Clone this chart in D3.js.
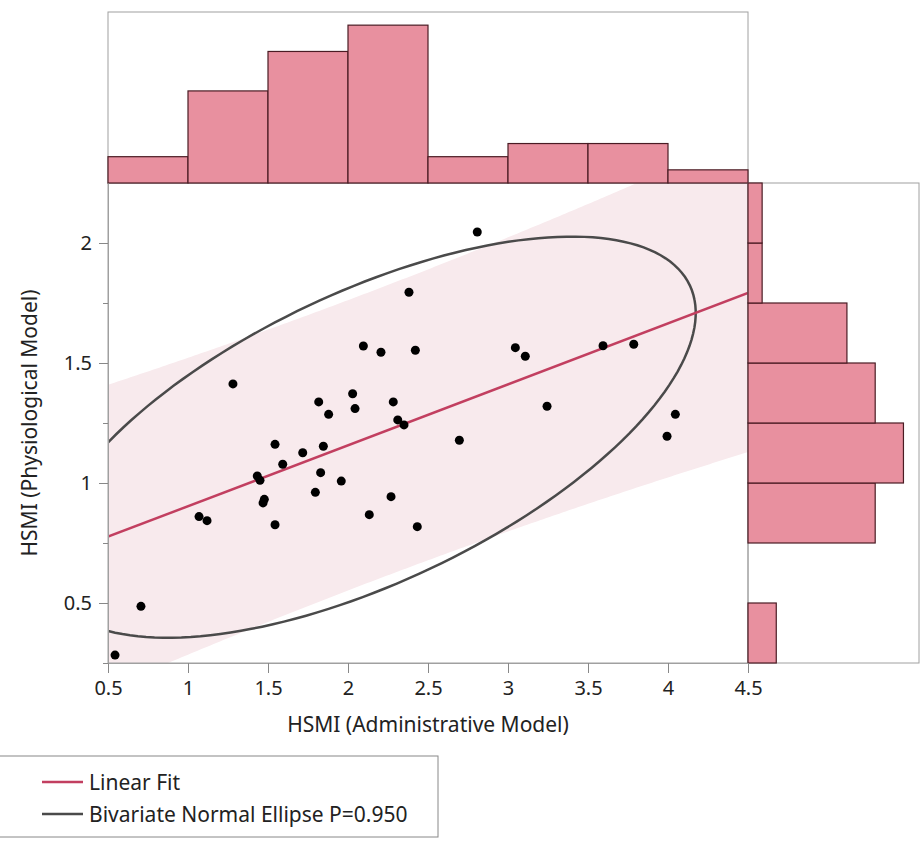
<!DOCTYPE html>
<html>
<head>
<meta charset="utf-8">
<script src="https://cdn.jsdelivr.net/npm/d3@7"></script>
<style>
  body { margin: 0; background: #fff; }
  svg { display: block; font-family: "Noto Sans", "Open Sans", sans-serif; }
</style>
</head>
<body>
<svg id="chart" width="922" height="842"></svg>
<script>
// HSMI values (one entry per hospital)
const hsmiAdmin = [1.544, 1.717, 1.846, 1.592, 1.433, 1.45, 1.829, 1.958, 1.796, 1.477,
  1.469, 2.269, 1.069, 1.119, 2.133, 1.544, 2.433, 0.706, 0.544, 2.381,
  2.096, 2.206, 2.421, 1.281, 2.029, 1.817, 2.044, 2.283, 1.879, 2.311,
  2.35, 2.808, 3.046, 3.108, 3.594, 3.786, 3.244, 4.046, 2.696, 3.994];
const hsmiPhysio = [1.161, 1.126, 1.153, 1.078, 1.029, 1.011, 1.043, 1.008, 0.961, 0.932,
  0.917, 0.943, 0.860, 0.843, 0.868, 0.826, 0.818, 0.486, 0.283, 1.795,
  1.571, 1.545, 1.553, 1.413, 1.372, 1.338, 1.310, 1.338, 1.286, 1.263,
  1.242, 2.046, 1.564, 1.528, 1.572, 1.578, 1.320, 1.286, 1.178, 1.195];

const xTicks = [0.5, 1, 1.5, 2, 2.5, 3, 3.5, 4, 4.5];
const yTicks = [0.5, 1, 1.5, 2];
const yMinor = [0.25, 0.75, 1.25, 1.75];
const legendItems = ["Linear Fit", "Bivariate Normal Ellipse P=0.950"];

const svg = d3.select("#chart");

// zonas do gráfico
const L = 108, R = 748, T = 183, B = 663;
const histTop = 12, histRight = 919;

const x = d3.scaleLinear().domain([0.5, 4.5]).range([L, R]);
const y = d3.scaleLinear().domain([0.25, 2.25]).range([B, T]);

const pink = "#e8909f", barStroke = "#4a1c24", frameCol = "#a0a0a0";

const n = hsmiAdmin.length;
const pts = hsmiAdmin.map((v, i) => [v, hsmiPhysio[i]]);

// --- estatísticas: regressão e elipse ---
const mx = d3.mean(hsmiAdmin), my = d3.mean(hsmiPhysio);
let sxx = 0, syy = 0, sxy = 0;
pts.forEach(([a, b]) => { sxx += (a - mx) ** 2; syy += (b - my) ** 2; sxy += (a - mx) * (b - my); });
const slope = sxy / sxx, icpt = my - slope * mx;
const sse = d3.sum(pts, ([a, b]) => (b - (icpt + slope * a)) ** 2);
const s = Math.sqrt(sse / (n - 2));
const tCrit = 2.2; // largura da faixa sombreada, acertada pela figura

// faixa de predição individual
const bandX = d3.range(0.3, 4.71, 0.02);
const band = bandX.map(v => {
  const h = tCrit * s * Math.sqrt(1 + 1 / n + (v - mx) ** 2 / sxx);
  const m = icpt + slope * v;
  return { v, lo: m - h, hi: m + h };
});

// elipse normal bivariada (P = 0.95, qui-quadrado 2 g.l.)
const cxx = sxx / (n - 1), cyy = syy / (n - 1), cxy = sxy / (n - 1);
const c2 = -2 * Math.log(1 - 0.95);
const tr = cxx + cyy, det = cxx * cyy - cxy * cxy;
const l1 = tr / 2 + Math.sqrt(tr * tr / 4 - det), l2 = tr / 2 - Math.sqrt(tr * tr / 4 - det);
const ang = Math.atan2(l1 - cxx, cxy);
const ell = d3.range(0, 2 * Math.PI + 0.01, Math.PI / 90).map(t => {
  const u = Math.sqrt(c2 * l1) * Math.cos(t), w = Math.sqrt(c2 * l2) * Math.sin(t);
  return [mx + u * Math.cos(ang) - w * Math.sin(ang), my + u * Math.sin(ang) + w * Math.cos(ang)];
});

svg.append("clipPath").attr("id", "clip")
  .append("rect").attr("x", L).attr("y", T).attr("width", R - L).attr("height", B - T);

const plot = svg.append("g").attr("clip-path", "url(#clip)");

plot.append("path")
  .datum(band)
  .attr("fill", "#f8eaed")
  .attr("d", d3.area().x(d => x(d.v)).y0(d => y(d.lo)).y1(d => y(d.hi)));

plot.append("path")
  .datum(ell)
  .attr("fill", "none")
  .attr("stroke", "#4a4a4a")
  .attr("stroke-width", 2.5)
  .attr("d", d3.line().x(d => x(d[0])).y(d => y(d[1])));

plot.append("line")
  .attr("x1", x(0.5)).attr("y1", y(icpt + slope * 0.5))
  .attr("x2", x(4.5)).attr("y2", y(icpt + slope * 4.5))
  .attr("stroke", "#c23f60").attr("stroke-width", 2.5);

plot.selectAll("circle")
  .data(pts)
  .enter().append("circle")
  .attr("cx", d => x(d[0])).attr("cy", d => y(d[1]))
  .attr("r", 4.5).attr("fill", "#000");

// moldura do gráfico principal
svg.append("rect").attr("x", L).attr("y", T).attr("width", R - L).attr("height", B - T)
  .attr("fill", "none").attr("stroke", frameCol);

// --- histograma superior ---
const binsX = d3.bin().domain([0.5, 4.5]).thresholds(d3.range(1, 4.5, 0.5))(hsmiAdmin);
const hy = d3.scaleLinear().domain([0, 13]).range([T, histTop]);
svg.append("rect").attr("x", L).attr("y", histTop).attr("width", R - L).attr("height", T - histTop)
  .attr("fill", "none").attr("stroke", frameCol);
svg.append("g").selectAll("rect")
  .data(binsX)
  .enter().append("rect")
  .attr("x", d => x(d.x0)).attr("width", d => x(d.x1) - x(d.x0))
  .attr("y", d => hy(d.length)).attr("height", d => T - hy(d.length))
  .attr("fill", pink).attr("stroke", barStroke).attr("stroke-width", 1.2);

// --- histograma lateral ---
const binsY = d3.bin().domain([0.25, 2.25]).thresholds(d3.range(0.5, 2.25, 0.25))(hsmiPhysio);
const hx = d3.scaleLinear().domain([0, 12.1]).range([R, histRight]);
svg.append("rect").attr("x", R).attr("y", T).attr("width", histRight - R).attr("height", B - T)
  .attr("fill", "none").attr("stroke", frameCol);
svg.append("g").selectAll("rect")
  .data(binsY.filter(d => d.length > 0))
  .enter().append("rect")
  .attr("x", R).attr("width", d => hx(d.length) - R)
  .attr("y", d => y(d.x1)).attr("height", d => y(d.x0) - y(d.x1))
  .attr("fill", pink).attr("stroke", barStroke).attr("stroke-width", 1.2);

// --- eixos ---
const xAxis = svg.append("g").attr("transform", `translate(0,${B})`)
  .call(d3.axisBottom(x).tickValues(xTicks).tickFormat(d3.format("~g")).tickSize(10).tickSizeOuter(0));
const yAxis = svg.append("g").attr("transform", `translate(${L},0)`)
  .call(d3.axisLeft(y).tickValues(yTicks).tickFormat(d3.format("~g")).tickSize(9).tickSizeOuter(0));
svg.append("g").attr("transform", `translate(${L},0)`)
  .call(d3.axisLeft(y).tickValues(yMinor).tickFormat("").tickSize(5).tickSizeOuter(0))
  .call(g => g.select(".domain").remove());

svg.selectAll(".tick line").attr("stroke", "#888");
svg.selectAll(".domain").attr("stroke", frameCol);
[xAxis, yAxis].forEach(g => g.selectAll("text")
  .attr("font-size", 20).attr("font-family", "Noto Sans").attr("fill", "#222"));
xAxis.selectAll("text").attr("dy", "0.95em");
yAxis.selectAll("text").attr("x", -16);

svg.append("text")
  .attr("x", (L + R) / 2).attr("y", 732)
  .attr("text-anchor", "middle").attr("font-size", 21).attr("fill", "#222")
  .text("HSMI (Administrative Model)");

svg.append("text")
  .attr("transform", `translate(37,${(T + B) / 2}) rotate(-90)`)
  .attr("text-anchor", "middle").attr("font-size", 21).attr("fill", "#222")
  .text("HSMI (Physiological Model)");

// --- legenda ---
const leg = svg.append("g");
leg.append("rect").attr("x", -2).attr("y", 756).attr("width", 440).attr("height", 81)
  .attr("fill", "#fff").attr("stroke", "#888");
const legColors = ["#c23f60", "#4a4a4a"];
legendItems.forEach((t, i) => {
  const yy = 782 + i * 32;
  leg.append("line").attr("x1", 42).attr("x2", 83).attr("y1", yy).attr("y2", yy)
    .attr("stroke", legColors[i]).attr("stroke-width", 2.5);
  leg.append("text").attr("x", 89).attr("y", yy + 8).attr("font-size", 21).attr("fill", "#222").text(t);
});
</script>
</body>
</html>
